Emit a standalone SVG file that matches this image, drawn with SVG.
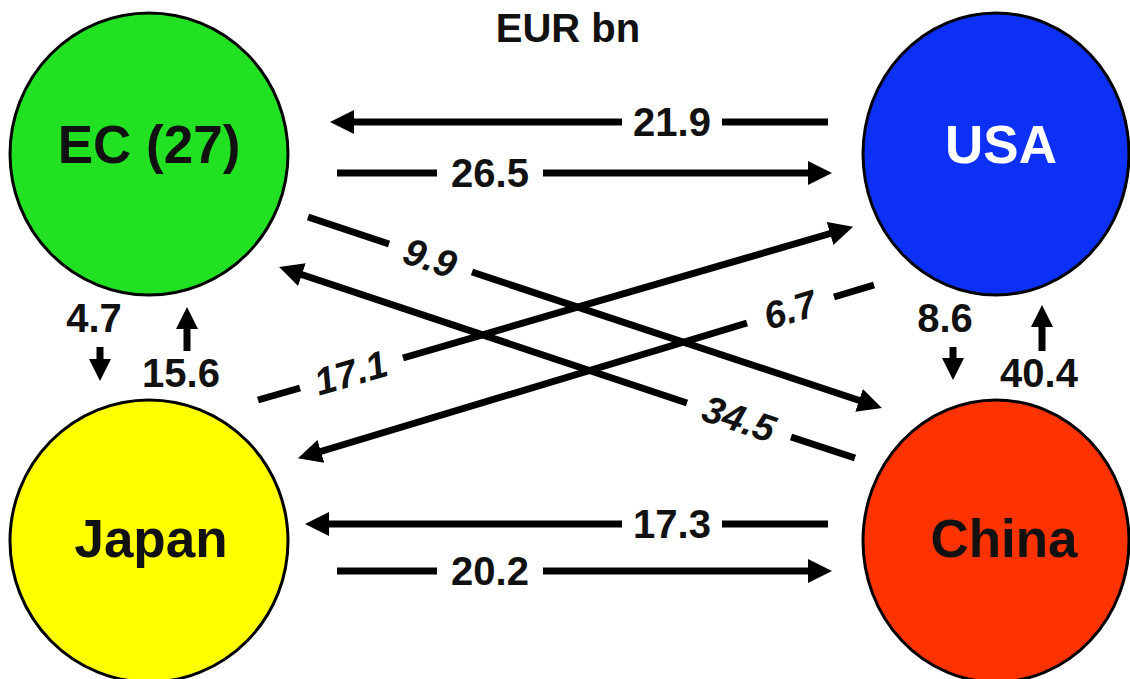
<svg xmlns="http://www.w3.org/2000/svg" width="1130" height="679" viewBox="0 0 1130 679">
<style>
.node{stroke:#000;stroke-width:3}
.nl{font-family:"Liberation Sans",Arial,sans-serif;font-weight:bold;font-size:53px;text-anchor:middle;fill:#111}
.lb{font-family:"Liberation Sans",Arial,sans-serif;font-weight:bold;font-size:40px;text-anchor:middle;fill:#111}
.dl{font-family:"Liberation Sans",Arial,sans-serif;font-weight:bold;font-style:italic;font-size:38px;text-anchor:middle;fill:#111}
.ln{stroke:#000;stroke-width:7;fill:none}
</style>
<defs>
<marker id="ah" markerUnits="userSpaceOnUse" markerWidth="26" markerHeight="26" refX="2" refY="12" orient="auto"><path d="M0,0 L24,12 L0,24 z" fill="#000"/></marker>
<marker id="sh" markerUnits="userSpaceOnUse" markerWidth="24" markerHeight="24" refX="2" refY="11" orient="auto"><path d="M0,0 L22,11 L0,22 z" fill="#000"/></marker>
</defs>
<rect width="1130" height="679" fill="#fff"/>
<text class="lb" x="568" y="42" style="font-size:40px">EUR bn</text>
<g id="ec"><ellipse class="node" cx="149" cy="154" rx="139" ry="141" fill="#22e022"/><text class="nl" x="149" y="163">EC (27)</text></g>
<g id="usa"><ellipse class="node" cx="996" cy="154" rx="133" ry="141" fill="#0c30f5"/><text class="nl" x="1001" y="163" style="fill:#fff">USA</text></g>
<g id="japan"><ellipse class="node" cx="149" cy="541" rx="139" ry="141" fill="#ffff00"/><text class="nl" x="151" y="557">Japan</text></g>
<g id="china"><ellipse class="node" cx="996" cy="541" rx="133" ry="141" fill="#ff3300"/><text class="nl" x="1004" y="557">China</text></g>
<g id="connectors">
<path class="ln" d="M828,122 H722"/><path class="ln" d="M622,122 H352" marker-end="url(#ah)"/>
<text class="lb" x="672" y="136">21.9</text>
<path class="ln" d="M337,173 H437"/><path class="ln" d="M543,173 H810" marker-end="url(#ah)"/>
<text class="lb" x="490" y="187">26.5</text>
<path class="ln" d="M828,524 H722"/><path class="ln" d="M622,524 H327" marker-end="url(#ah)"/>
<text class="lb" x="672" y="538">17.3</text>
<path class="ln" d="M337,571 H437"/><path class="ln" d="M543,571 H810" marker-end="url(#ah)"/>
<text class="lb" x="490" y="585">20.2</text>
<path class="ln" d="M100,347 V361" marker-end="url(#sh)"/>
<text class="lb" x="94" y="332">4.7</text>
<path class="ln" d="M187,351 V327" marker-end="url(#sh)"/>
<text class="lb" x="181" y="387">15.6</text>
<path class="ln" d="M953,347 V360" marker-end="url(#sh)"/>
<text class="lb" x="945" y="332">8.6</text>
<path class="ln" d="M1042,351 V325" marker-end="url(#sh)"/>
<text class="lb" x="1039" y="387">40.4</text>
<path class="ln" d="M308,217 L389,244"/><path class="ln" d="M472,272 L861,401" marker-end="url(#ah)"/>
<text class="dl" transform="translate(430,258) rotate(18.4)" y="13">9.9</text>
<path class="ln" d="M855,458 L791,437"/><path class="ln" d="M687,403 L300,274" marker-end="url(#ah)"/>
<text class="dl" transform="translate(739,419) rotate(18.3)" y="13">34.5</text>
<path class="ln" d="M258,400 L300,388"/><path class="ln" d="M403,358 L832,233" marker-end="url(#ah)"/>
<text class="dl" transform="translate(351,373) rotate(-16.2)" y="13">17.1</text>
<path class="ln" d="M874,285 L834,297"/><path class="ln" d="M747,323 L319,452" marker-end="url(#ah)"/>
<text class="dl" transform="translate(790,310) rotate(-16.7)" y="13">6.7</text>
</g>
</svg>
